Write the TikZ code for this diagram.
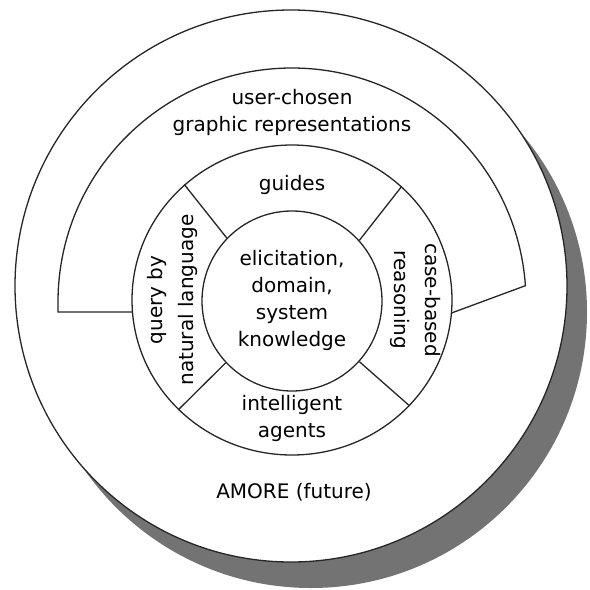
\documentclass[tikz,border=0pt]{standalone}
\usepackage{fontspec}
\setmainfont{DejaVu Sans}
\usetikzlibrary{shapes.geometric}
\begin{document}
\begin{tikzpicture}[x=1pt,y=-1pt,
  edge/.style={line width=1.3pt, draw=black!85},
  lbl/.style={font=\fontsize{20}{27}\selectfont, align=center, inner sep=0pt},
  shadowfill/.style={fill=black!55}
]
\useasboundingbox (0,0) rectangle (590,590);
% outer circle with shadow
\fill[shadowfill] (311,312) circle[radius=276pt];
\node[circle, edge, fill=white, minimum size=552pt, inner sep=0pt] (amore) at (291,286) {};
% arch (user-chosen graphic representations)
\coordinate (al) at (132.5,312);
\coordinate (ar) at (451.5,313);
\coordinate (archL) at (58,312);
\coordinate (archS) at (58,302);
\draw[edge] (al) -- (archL) -- (archS) arc[start angle=180, end angle=4, radius=234pt] -- (ar);
% ring and core
\node[ellipse, edge, fill=white, minimum width=320pt, minimum height=310pt, inner sep=0pt] (ring) at (292,300) {};
\node[circle, edge, minimum size=180pt, inner sep=0pt] (core) at (292,301) {};
% dividers
\draw[edge] (core.136) -- (ring.133);
\draw[edge] (core.42) -- (ring.46);
\draw[edge] (core.223) -- (ring.224);
\draw[edge] (core.318) -- (ring.318);
% labels
\node[lbl] (ucg) at (292,112) {user-chosen\\graphic representations};
\node[lbl] (guides) at (292,185) {guides};
\node[lbl] (elic) at (292,300) {elicitation,\\domain,\\system\\knowledge};
\node[lbl] (agents) at (292,418) {intelligent\\agents};
\node[lbl] (amorelbl) at (294,492) {AMORE (future)};
\node[lbl, rotate=90] (query) at (172,300) {query by\\[4pt]natural language};
\node[lbl, rotate=-90] (cbr) at (416,300) {case-based\\[4pt]reasoning};
\end{tikzpicture}
\end{document}
